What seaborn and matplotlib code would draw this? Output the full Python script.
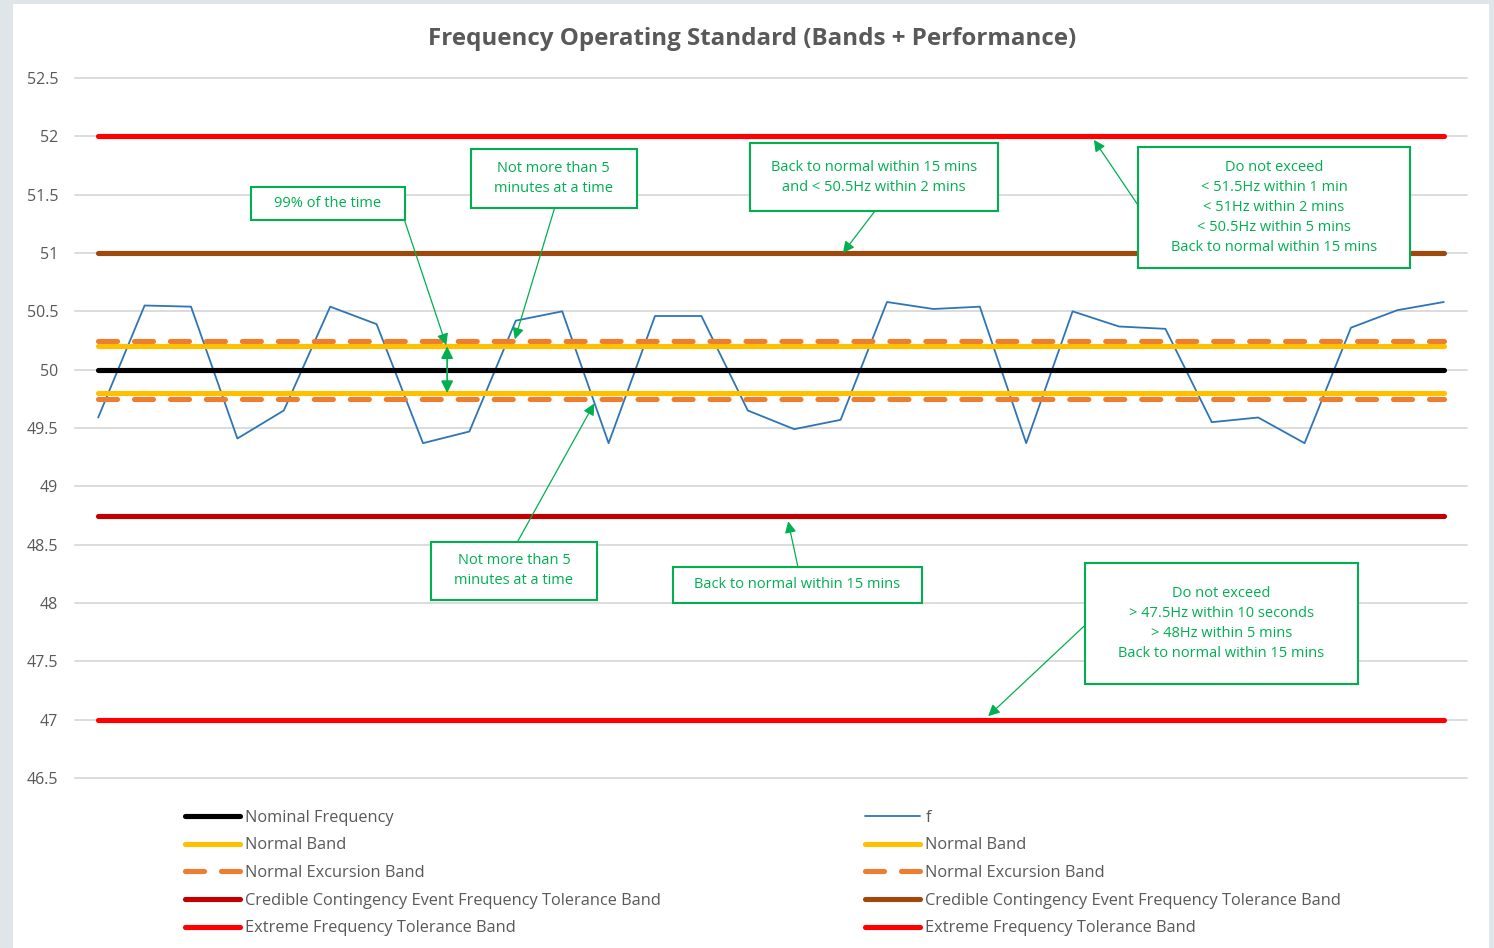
import matplotlib
matplotlib.use("Agg")
import matplotlib.pyplot as plt
from matplotlib.lines import Line2D
from matplotlib.patches import Rectangle
import numpy as np
import seaborn as sns

# ---- data -------------------------------------------------------------
intervals = list(range(30))
freq = [49.59, 50.55, 50.54, 49.41, 49.65, 50.54, 50.39, 49.37, 49.47, 50.42,
        50.50, 49.37, 50.46, 50.46, 49.65, 49.49, 49.57, 50.58, 50.52, 50.54,
        49.37, 50.50, 50.37, 50.35, 49.55, 49.59, 49.37, 50.36, 50.51, 50.58]

nominal = 50.0
normal_band = [49.8, 50.2]
excursion_band = [49.75, 50.25]
contingency_band = [48.75, 51.0]
extreme_band = [47.0, 52.0]

y_ticks = [46.5, 47, 47.5, 48, 48.5, 49, 49.5, 50, 50.5, 51, 51.5, 52, 52.5]

TITLE = "Frequency Operating Standard (Bands + Performance)"

# ---- styles -----------------------------------------------------------
BLACK = "#000000"
YELLOW = "#FFC000"
ORANGE = "#ED7D31"
DARK_RED = "#C00000"
BROWN = "#9E480E"
RED = "#FF0000"
BLUE = "#2E75B6"
GREEN = "#00B050"
GREY_TXT = "#595959"
BAND_LW = 3.7
DASH = (3.7, 3.3)

# annotation boxes: text, (x0, x1, y0, y1), arrow start, arrow tip
notes = [
    ("99% of the time", (3.29, 6.61, 51.28, 51.57), (6.61, 51.27), (7.50, 50.21)),
    ("Not more than 5\nminutes at a time", (8.03, 11.61, 51.39, 51.89),
     (9.84, 51.39), (8.98, 50.26)),
    ("Back to normal within 15 mins\nand < 50.5Hz within 2 mins",
     (14.05, 19.39, 51.36, 51.94), (16.74, 51.36), (16.05, 51.0)),
    ("Do not exceed\n< 51.5Hz within 1 min\n< 51Hz within 2 mins\n"
     "< 50.5Hz within 5 mins\nBack to normal within 15 mins",
     (22.41, 28.27, 50.87, 51.91), (22.41, 51.41), (21.46, 51.97)),
    ("Not more than 5\nminutes at a time", (7.17, 10.75, 48.03, 48.52),
     (9.03, 48.52), (10.69, 49.71)),
    ("Back to normal within 15 mins", (12.39, 17.75, 48.0, 48.31),
     (15.08, 48.31), (14.87, 48.70)),
    ("Do not exceed\n> 47.5Hz within 10 seconds\n> 48Hz within 5 mins\n"
     "Back to normal within 15 mins",
     (21.27, 27.15, 47.31, 48.34), (21.27, 47.81), (19.18, 47.03)),
]

sns.set_theme(style="white")
plt.rcParams["font.family"] = ["Open Sans", "DejaVu Sans"]

W, H = 1494, 948
fig = plt.figure(figsize=(W / 100, H / 100), dpi=100)
fig.patch.set_facecolor("#dfe5e8")
fig.patches.append(Rectangle((13 / W, 0), (1489 - 13) / W, 1 - 4 / H,
                             transform=fig.transFigure, facecolor="white",
                             edgecolor="none", zorder=-1))

ax = fig.add_axes([75 / W, 1 - 778 / H, 1392 / W, 700 / H])
ax.set_facecolor("none")


def hline(value, color, lw=BAND_LW, dashed=False, z=3):
    sns.lineplot(x=intervals, y=[value] * len(intervals), ax=ax, color=color,
                 lw=lw, legend=False, zorder=z)
    line = ax.lines[-1]
    line.set_solid_capstyle("round")
    if dashed:
        line.set_dashes(DASH)
        line.set_dash_capstyle("round")


# measured frequency
sns.lineplot(x=intervals, y=freq, ax=ax, color=BLUE, lw=1.3, legend=False, zorder=2)

hline(extreme_band[0], RED)
hline(extreme_band[1], RED)
hline(contingency_band[0], DARK_RED)
hline(contingency_band[1], BROWN)
hline(excursion_band[0], ORANGE, dashed=True)
hline(excursion_band[1], ORANGE, dashed=True)
hline(normal_band[0], YELLOW)
hline(normal_band[1], YELLOW)
hline(nominal, BLACK)

ax.set_xlim(-0.5, 29.5)
ax.set_ylim(46.5, 52.5)
ax.set_yticks(y_ticks)
ax.set_yticklabels([f"{t:g}" for t in y_ticks], color=GREY_TXT, fontsize=11.5)
ax.set_xticks([])
ax.tick_params(axis="y", length=0, pad=12)
ax.yaxis.grid(True, color="#d9d9d9", lw=1.3)
for gl in ax.get_ygridlines():
    gl.set_clip_on(False)
for s in ax.spines.values():
    s.set_visible(False)
ax.set_xlabel("")
ax.set_ylabel("")

# annotations
for text, (x0, x1, y0, y1), start, tip in notes:
    ax.add_patch(Rectangle((x0, y0), x1 - x0, y1 - y0, facecolor="white",
                           edgecolor=GREEN, lw=1.5, zorder=6))
    ax.text((x0 + x1) / 2, (y0 + y1) / 2, text, ha="center", va="center",
            color=GREEN, fontsize=10.5, linespacing=1.45, zorder=7)
    ax.annotate("", xy=tip, xytext=start, zorder=5,
                arrowprops=dict(arrowstyle="-|>", color=GREEN, lw=0.9,
                                mutation_scale=17, shrinkA=0, shrinkB=0))

# double headed arrow across the normal band
ax.annotate("", xy=(7.52, normal_band[0]), xytext=(7.52, normal_band[1]), zorder=5,
            arrowprops=dict(arrowstyle="<|-|>", color=GREEN, lw=1.2,
                            mutation_scale=18, shrinkA=0, shrinkB=0))

fig.text(752 / W, 1 - 39 / H, TITLE, ha="center", va="center", fontsize=17.4,
         fontweight="bold", color=GREY_TXT)


# legend, two columns
def proxy(color, lw=BAND_LW, dashed=False):
    h = Line2D([], [], color=color, lw=lw, solid_capstyle="round")
    if dashed:
        h.set_dashes(DASH)
        h.set_dash_capstyle("round")
    return h


left = [
    (proxy(BLACK), "Nominal Frequency"),
    (proxy(YELLOW), "Normal Band"),
    (proxy(ORANGE, dashed=True), "Normal Excursion Band"),
    (proxy(DARK_RED), "Credible Contingency Event Frequency Tolerance Band"),
    (proxy(RED), "Extreme Frequency Tolerance Band"),
]
right = [
    (proxy(BLUE, lw=1.3), "f"),
    (proxy(YELLOW), "Normal Band"),
    (proxy(ORANGE, dashed=True), "Normal Excursion Band"),
    (proxy(BROWN), "Credible Contingency Event Frequency Tolerance Band"),
    (proxy(RED), "Extreme Frequency Tolerance Band"),
]
for items, x_px in [(left, 185), (right, 865)]:
    leg = fig.legend([h for h, _ in items], [l for _, l in items],
                     loc="upper left", bbox_to_anchor=(x_px / W, 1 - 809.5 / H),
                     frameon=False, fontsize=11.75, handlelength=3.4,
                     handletextpad=0.3, labelspacing=0.72, borderpad=0,
                     borderaxespad=0)
    for t in leg.get_texts():
        t.set_color(GREY_TXT)

fig.savefig("out.png", dpi=100, facecolor=fig.get_facecolor())
